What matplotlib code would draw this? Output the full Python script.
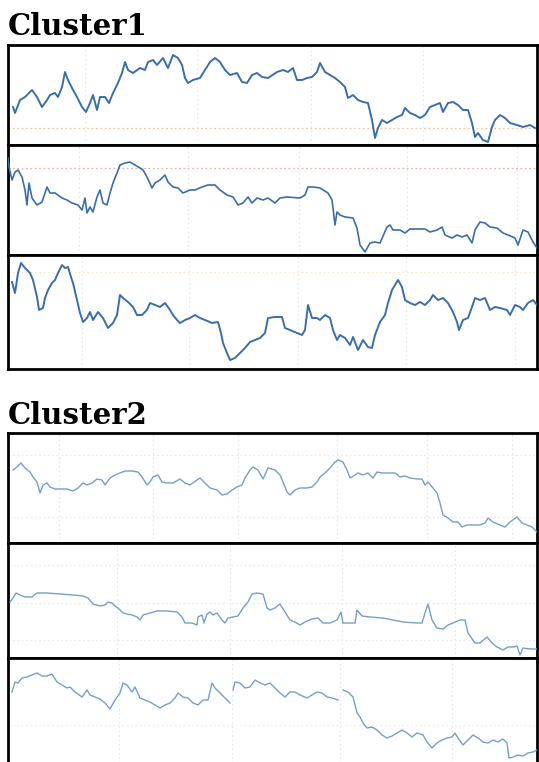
import numpy as np
import matplotlib
matplotlib.use("Agg")
import matplotlib.pyplot as plt

# ---- Cluster 1 series (time index, level) ----
c1a_t = [5, 7, 12, 17, 24, 29, 34, 39, 42, 47, 50, 54, 57, 60, 64, 69, 74, 78, 82, 85, 89, 92, 97, 101, 105,
         110, 114, 117, 120, 125, 132, 137, 140, 145, 149, 155, 160, 165, 170, 174, 177, 180, 185, 192, 197,
         202, 207, 212, 217, 222, 229, 234, 239, 244, 249, 254, 260, 269, 275, 280, 285, 289, 294, 299, 304,
         309, 312, 317, 322, 327, 332, 337, 340, 345, 350, 355, 360, 364, 367, 370, 374, 379, 384, 389, 394,
         397, 402, 407, 412, 417, 422, 427, 432, 435, 440, 445, 450, 455, 460, 464, 467, 470, 475, 480, 484,
         487, 492, 497, 502, 509, 515, 522, 527]
c1a_v = [38, 32, 45, 48, 55, 48, 38, 45, 50, 52, 48, 58, 73, 65, 57, 48, 38, 33, 42, 50, 35, 48, 48, 42, 52,
         62, 72, 83, 75, 72, 77, 75, 83, 85, 80, 87, 77, 90, 87, 80, 67, 62, 65, 67, 75,
         83, 87, 83, 75, 70, 72, 63, 62, 70, 72, 68, 67, 73, 75, 73, 77, 65, 65, 67, 68,
         73, 82, 73, 70, 67, 63, 58, 47, 50, 45, 43, 42, 25, 7, 17, 25, 22, 25, 28, 30,
         37, 32, 30, 27, 30, 38, 40, 42, 33, 42, 43, 40, 35, 35, 22, 8, 12, 5, 3, 18,
         25, 30, 27, 22, 20, 18, 20, 17]

c1b_t = [0, 1, 4, 7, 10, 14, 17, 19, 21, 24, 29, 34, 39, 42, 47, 54, 59, 64, 70, 74, 77, 79, 82, 85, 89,
         92, 95, 99, 102, 105, 109, 112, 117, 122, 127, 132, 135, 139, 144, 147, 152, 157, 160, 165, 170,
         175, 182, 187, 194, 200, 207, 212, 219, 225, 230, 235, 240, 244, 249, 255, 260, 267, 272, 279, 292,
         297, 300, 305, 312, 320, 324, 325, 327, 329, 332, 337, 345, 349, 352, 357, 362, 367, 372, 379, 382,
         385, 392, 397, 402, 409, 417, 422, 429, 434, 437, 444, 449, 454, 459, 464, 467, 472, 477, 482, 489,
         495, 500, 507, 510, 515, 520, 525, 529]
c1b_v = [97, 88, 75, 83, 85, 78, 65, 50, 72, 57, 50, 53, 68, 62, 62, 57, 55, 52, 50, 45, 57, 42, 48, 43, 58,
         65, 52, 50, 62, 72, 82, 90, 92, 93, 90, 87, 85, 78, 67, 72, 75, 80, 73, 68, 67,
         62, 65, 65, 68, 70, 70, 65, 60, 58, 50, 52, 58, 52, 57, 55, 57, 52, 57, 58, 57,
         60, 68, 68, 67, 62, 55, 47, 30, 43, 40, 38, 37, 27, 10, 3, 12, 13, 12, 28, 30,
         25, 25, 22, 26, 26, 26, 23, 25, 28, 20, 17, 20, 18, 20, 12, 25, 33, 32, 28, 27,
         22, 20, 17, 10, 25, 23, 13, 7]

c1c_t = [4, 7, 10, 13, 17, 22, 25, 29, 31, 35, 37, 40, 44, 47, 50, 54, 57, 60, 63, 65, 69, 72, 75, 79, 82,
         85, 90, 95, 100, 105, 109, 112, 115, 120, 125, 129, 134, 139, 142, 147, 152, 157, 162, 165, 169,
         172, 177, 182, 187, 192, 197, 204, 210, 213, 215, 219, 222, 227, 232, 237, 242, 247, 252, 257, 260,
         267, 274, 277, 282, 289, 294, 297, 300, 304, 309, 312, 317, 322, 325, 329, 332, 337, 342, 345, 350,
         355, 360, 364, 367, 372, 377, 380, 384, 387, 390, 394, 397, 402, 407, 412, 417, 422, 425, 430, 435,
         440, 445, 449, 451, 455, 460, 464, 467, 472, 477, 482, 487, 492, 499, 502, 507, 512, 515, 520, 525, 529]
c1c_v = [87, 76, 96, 106, 101, 96, 89, 72, 59, 61, 71, 79, 86, 89, 96, 104, 101, 102, 92, 86, 69, 56, 47, 51, 57,
         49, 57, 51, 41, 46, 54, 74, 71, 67, 62, 54, 54, 59, 66, 64, 62, 66, 59, 54, 49,
         46, 49, 51, 54, 51, 49, 46, 47, 36, 26, 16, 9, 11, 16, 21, 27, 29, 31, 36, 51,
         52, 52, 41, 39, 36, 34, 39, 64, 51, 51, 49, 54, 51, 39, 29, 34, 31, 24, 32, 19,
         29, 22, 21, 34, 47, 54, 66, 79, 84, 89, 82, 69, 66, 64, 67, 64, 69, 74, 69, 71,
         66, 57, 47, 39, 49, 51, 62, 71, 69, 71, 59, 62, 61, 59, 54, 64, 62, 59, 66, 69, 64]

# ---- Cluster 2 series ----
c2a_t = [5, 9, 13, 17, 22, 25, 29, 32, 35, 39, 42, 47, 52, 59, 65, 70, 75, 79, 84, 89, 94, 97, 102, 107, 112,
         117, 124, 130, 134, 139, 142, 145, 150, 154, 159, 165, 172, 177, 182, 189, 192, 197, 202, 209, 214,
         219, 224, 229, 234, 237, 242, 245, 250, 255, 260, 267, 272, 275, 279, 282, 287, 292, 299, 304, 309,
         312, 317, 322, 327, 330, 335, 339, 342, 347, 350, 355, 360, 365, 369, 374, 380, 387, 392, 397, 402,
         409, 414, 417, 420, 425, 429, 432, 435, 440, 445, 450, 454, 459, 465, 472, 477, 480, 485, 492, 497,
         502, 509, 514, 519, 524, 529]
c2a_v = [73, 76, 80, 75, 71, 66, 61, 50, 58, 60, 56, 54, 54, 54, 52, 55, 60, 58, 60, 64, 63, 58, 65, 68, 70,
         72, 72, 71, 66, 58, 61, 66, 68, 61, 60, 60, 64, 60, 58, 63, 65, 60, 55, 53, 48,
         49, 53, 56, 58, 65, 73, 76, 73, 64, 75, 73, 68, 61, 51, 48, 53, 55, 55, 56, 61,
         66, 70, 75, 81, 83, 81, 73, 65, 68, 70, 68, 70, 65, 71, 70, 70, 70, 66, 67, 65,
         64, 64, 58, 61, 55, 50, 40, 28, 25, 21, 21, 16, 18, 18, 18, 20, 25, 21, 18, 16,
         21, 26, 20, 18, 16, 11]

c2b_t = [2, 5, 8, 12, 17, 24, 29, 39, 52, 65, 75, 80, 85, 92, 97, 100, 104, 107, 110, 115, 119, 124, 129, 132, 135,
         142, 149, 159, 169, 174, 177, 184, 189, 190, 194, 196, 199, 202, 205, 209, 214, 217, 220, 225, 230,
         235, 240, 244, 249, 255, 259, 262, 267, 272, 277, 282, 287, 292, 297, 304, 310, 315, 322, 329, 333,
         335, 342, 347, 349, 354, 362, 375, 385, 395, 409, 414, 417, 420, 424, 429, 435, 440, 445, 452, 457,
         460, 467, 472, 479, 484, 489, 495, 500, 505, 509, 512, 515, 522, 529]
c2b_v = [56, 60, 65, 63, 61, 61, 65, 65, 64, 63, 62, 60, 54, 52, 53, 56, 55, 52, 50, 45, 44, 43, 41, 38, 43,
         45, 47, 47, 46, 41, 35, 35, 33, 41, 43, 35, 44, 46, 43, 45, 38, 35, 40, 41, 42,
         50, 56, 64, 65, 64, 50, 48, 50, 54, 46, 38, 36, 33, 36, 39, 40, 35, 35, 38, 46,
         35, 35, 35, 48, 42, 41, 40, 38, 36, 35, 35, 45, 54, 38, 30, 29, 33, 35, 38, 38,
         25, 15, 15, 21, 15, 11, 8, 11, 11, 12, 3, 10, 9, 9]

# the third Cluster 2 series has two missing stretches (NaN)
c2c_t = [4, 7, 10, 14, 19, 24, 29, 34, 39, 44, 49, 54, 59, 62, 67, 74, 79, 82, 87, 92, 97, 102, 107, 112, 115,
         119, 124, 127, 132, 137, 142, 147, 152, 157, 162, 167, 170, 175, 180, 185, 190, 195, 200, 204, 207,
         212, 217, 222, 223.5, 225, 227, 232, 237, 242, 247, 252, 257, 262, 267, 272, 277, 282, 287, 292, 299,
         304, 309, 314, 319, 324, 330, 332.5, 335, 340, 345, 349, 352, 355, 359, 364, 369, 374, 379, 384, 389,
         394, 399, 404, 409, 415, 419, 424, 429, 434, 439, 444, 447, 450, 455, 460, 465, 470, 475, 480, 485,
         490, 495, 499, 501, 505, 510, 515, 520, 525, 529]
c2c_v = [81, 91, 90, 95, 96, 98, 100, 97, 97, 99, 91, 88, 85, 86, 81, 76, 83, 78, 76, 74, 70, 64, 73, 80, 90,
         88, 81, 86, 75, 73, 71, 68, 65, 68, 70, 75, 80, 76, 75, 70, 68, 73, 73, 90, 85,
         80, 75, 70, np.nan, 83, 91, 90, 85, 86, 93, 90, 88, 90, 85, 80, 76, 81, 81, 78, 75,
         78, 81, 80, 76, 75, 73, np.nan, 83, 81, 76, 60, 56, 50, 45, 46, 43, 38, 35, 37, 40,
         43, 40, 36, 40, 38, 31, 25, 30, 33, 35, 36, 40, 35, 28, 33, 38, 35, 31, 30, 33,
         31, 34, 30, 15, 16, 18, 17, 20, 21, 23]

# grid tick positions of each strip
c1a_xgrid = [77, 189, 303, 415]
c1b_xgrid = [71, 180, 291, 399, 509]
c1c_xgrid = [74, 181, 290, 398, 507]
c2a_xgrid = [51, 145, 230, 329, 419, 504]
c2b_xgrid = [109, 222, 334, 447]
c2c_xgrid = [111, 224, 332, 444]
c1a_ygrid = [17]
c1b_ygrid = [87]
c1c_ygrid = [97]
c2a_ygrid = [88, 26]
c2b_ygrid = [93, 55, 18]
c2c_ygrid = [48]

W, H = 539, 762
fig = plt.figure(figsize=(W / 100, H / 100), dpi=100)
fig.patch.set_facecolor("white")

C1_COLOR = "#3a6ea8"
C2_COLOR = "#729fd0"

# (series, grids, strip top px, strip bottom px, colour, line width, horizontal grid colour)
strips = [
    (c1a_t, c1a_v, c1a_xgrid, c1a_ygrid, 45, 145, C1_COLOR, 1.4, "#f6c4a0"),
    (c1b_t, c1b_v, c1b_xgrid, c1b_ygrid, 145, 255, C1_COLOR, 1.2, "#f4b0a0"),
    (c1c_t, c1c_v, c1c_xgrid, c1c_ygrid, 255, 369, C1_COLOR, 1.4, "#f8ecc8"),
    (c2a_t, c2a_v, c2a_xgrid, c2a_ygrid, 433, 543, C2_COLOR, 1.0, "#e8ebf0"),
    (c2b_t, c2b_v, c2b_xgrid, c2b_ygrid, 543, 658, C2_COLOR, 1.0, "#e8ebf0"),
    (c2c_t, c2c_v, c2c_xgrid, c2c_ygrid, 658, 773, C2_COLOR, 1.0, "#eceef2"),
]

left_px, right_px = 8, 537
for t, v, xg, yg, top, bot, col, lw, hcol in strips:
    ax = fig.add_axes([left_px / W, 1 - bot / H, (right_px - left_px) / W, (bot - top) / H])
    ax.set_xlim(0, right_px - left_px)
    ax.set_ylim(0, bot - top)
    for x in xg:
        ax.axvline(x, color="#e2e6ee", lw=0.8, ls=(0, (1.5, 2.5)), zorder=1)
    for y in yg:
        ax.axhline(y, color=hcol, lw=0.9, ls=(0, (1.5, 2.0)), zorder=1)
    ax.plot(t, v, color=col, lw=lw, solid_joinstyle="round", zorder=3)
    ax.set_xticks([])
    ax.set_yticks([])
    for s in ax.spines.values():
        s.set_linewidth(2.0)
        s.set_color("black")

fig.text(8 / W, 1 - 35 / H, "Cluster1", fontfamily="DejaVu Serif", fontweight="bold",
         fontsize=21, va="baseline", ha="left", color="black")
fig.text(8 / W, 1 - 424 / H, "Cluster2", fontfamily="DejaVu Serif", fontweight="bold",
         fontsize=21, va="baseline", ha="left", color="black")

fig.savefig("out.png", dpi=100, facecolor="white")
